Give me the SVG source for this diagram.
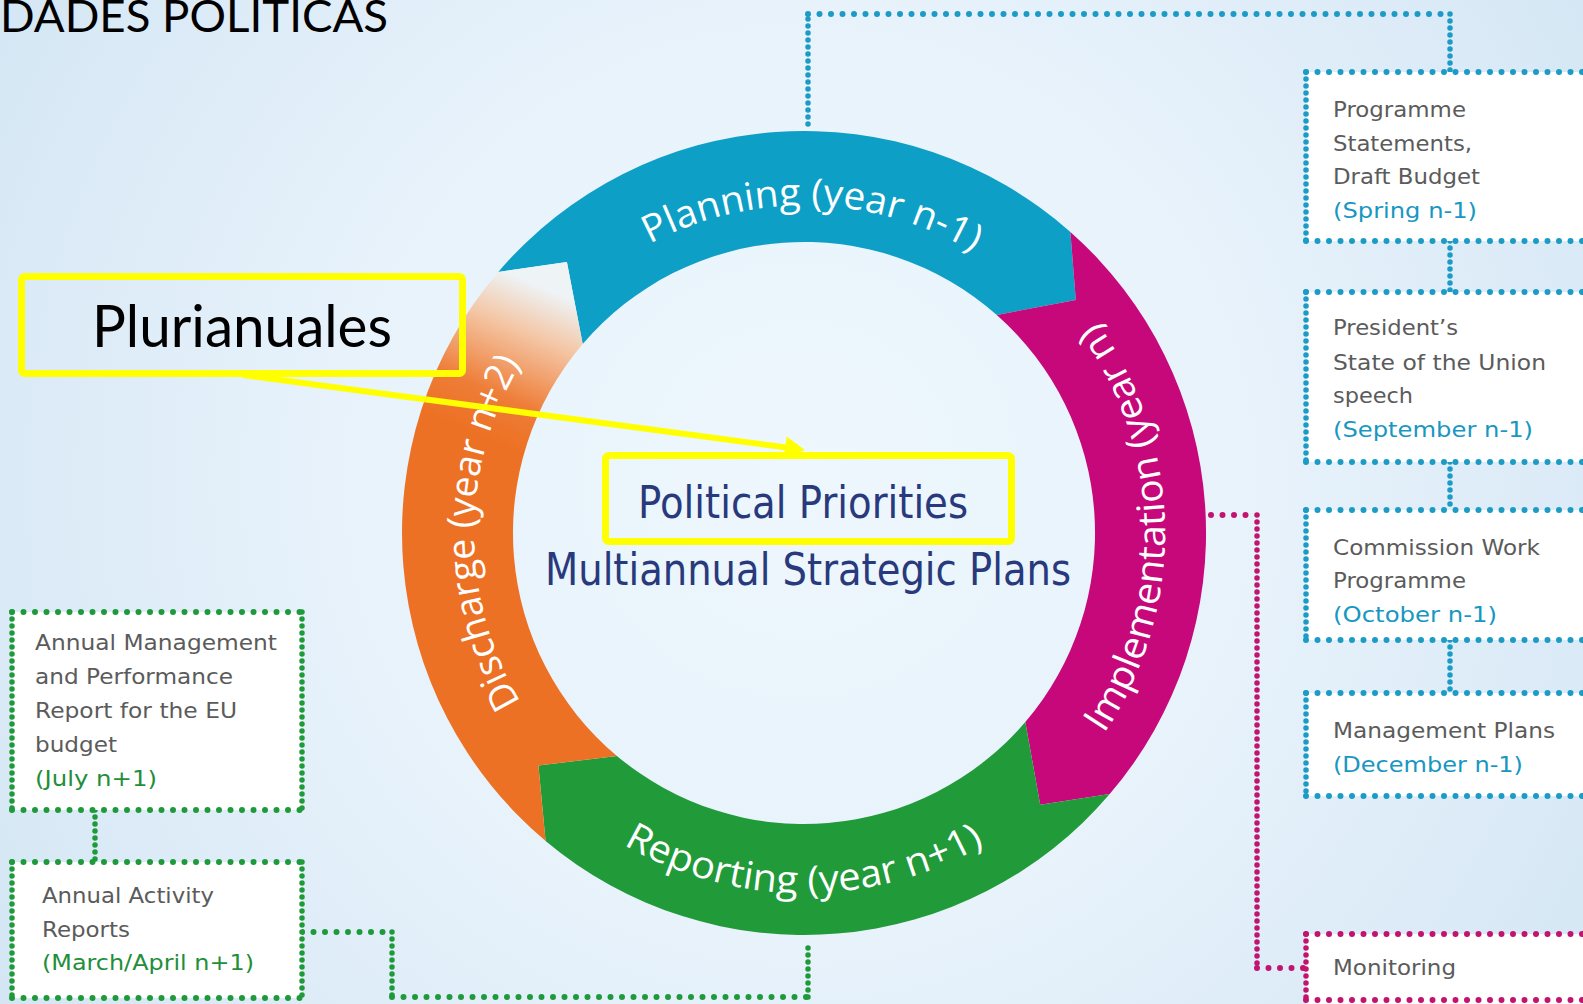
<svg xmlns="http://www.w3.org/2000/svg" width="1583" height="1004" viewBox="0 0 1583 1004">
<defs>
  <radialGradient id="bg" cx="800" cy="480" r="950" gradientUnits="userSpaceOnUse">
    <stop offset="0" stop-color="#eef7fd"/>
    <stop offset="0.5" stop-color="#e7f2fb"/>
    <stop offset="1" stop-color="#d4e6f4"/>
  </radialGradient>
  <linearGradient id="orangeFade" gradientUnits="userSpaceOnUse" x1="466" y1="430" x2="530" y2="282">
    <stop offset="0" stop-color="#ed7124"/>
    <stop offset="0.28" stop-color="#ee7d37"/>
    <stop offset="0.7" stop-color="#f4c6a5"/>
    <stop offset="1" stop-color="#eef3f6"/>
  </linearGradient>
  <path id="pPlanning" d="M 572.1,301.1 A 329 329 0 0 1 1047.7,313.5"/>
  <path id="pImpl" d="M 1059.3,788.3 A 361 361 0 0 0 1050.2,269.0"/>
  <path id="pReport" d="M 549.4,787.6 A 360 360 0 0 0 1058.6,787.6"/>
  <path id="pDischarge" d="M 570.7,766.3 A 330 330 0 0 1 570.7,299.7"/>
</defs>
<style>
  .ring-label { font-family: "Open Sans", "DejaVu Sans", sans-serif; font-size: 38px; fill: #ffffff; }
  .box-text { font-family: "DejaVu Sans", "Open Sans", sans-serif; font-size: 21px; fill: #5b5b5b; }
  .date-blue { fill: #1897c2; }
  .date-green { fill: #1f8f3a; }
  .center-text { font-family: "DejaVu Sans", "Open Sans", sans-serif; font-size: 45px; fill: #283a7c; }
  .hl { fill: none; stroke: #ffff00; stroke-width: 7; }
  .dot { fill: none; stroke-linecap: round; }
  .h { stroke-width: 6; stroke-dasharray: 0 11.5; }
  .v { stroke-width: 5.5; stroke-dasharray: 0 7; }
  .blue { stroke: #1b9bc5; }
  .mag { stroke: #c2136f; }
  .grn { stroke: #1f9a3a; }
  .boxfill { fill: #ffffff; stroke: none; }
</style>

<rect x="0" y="0" width="1583" height="1004" fill="url(#bg)"/>

<g id="title">
  <text x="0" y="32" font-family="Lato, 'DejaVu Sans', sans-serif" font-size="44" fill="#000" textLength="388" lengthAdjust="spacingAndGlyphs">DADES POLITICAS</text>
</g>

<g id="connectors">
  <line class="dot v blue" x1="808" y1="124" x2="808" y2="14"/>
  <line class="dot h blue" x1="808" y1="14" x2="1450" y2="14"/>
  <line class="dot v blue" x1="1450" y1="14" x2="1450" y2="72"/>
  <line class="dot v blue" x1="1450" y1="241" x2="1450" y2="292"/>
  <line class="dot v blue" x1="1450" y1="462" x2="1450" y2="510"/>
  <line class="dot v blue" x1="1450" y1="640" x2="1450" y2="693"/>
  <line class="dot h mag" x1="1211" y1="515" x2="1257" y2="515"/>
  <line class="dot v mag" x1="1257" y1="515" x2="1257" y2="968"/>
  <line class="dot h mag" x1="1257" y1="968" x2="1306" y2="968"/>
  <line class="dot v grn" x1="95" y1="810" x2="95" y2="862"/>
  <line class="dot h grn" x1="302" y1="932" x2="392" y2="932"/>
  <line class="dot v grn" x1="392" y1="932" x2="392" y2="997"/>
  <line class="dot h grn" x1="392" y1="997" x2="808" y2="997"/>
  <line class="dot v grn" x1="808" y1="997" x2="808" y2="941"/>
</g>

<g id="cycle">
  <path id="seg-planning" fill="#0e9fc6" d="M 498.3,271.9 A 402 402 0 0 1 1070.4,231.9 L 1075.8,300.0 L 996.8,315.0 A 291 291 0 0 0 582.7,344.0 L 566.9,262.1 Z"/>
  <path id="seg-implementation" fill="#c6087b" d="M 1070.4,231.9 A 402 402 0 0 1 1109.7,794.1 L 1040.2,804.7 L 1025.3,722.0 A 291 291 0 0 0 996.8,315.0 L 1075.8,300.0 Z"/>
  <path id="seg-reporting" fill="#219a3a" d="M 1109.7,794.1 A 402 402 0 0 1 545.6,840.9 L 538.4,765.5 L 616.9,755.9 A 291 291 0 0 0 1025.3,722.0 L 1040.2,804.7 Z"/>
  <path id="seg-discharge" fill="url(#orangeFade)" d="M 545.6,840.9 A 402 402 0 0 1 498.3,271.9 L 566.9,262.1 L 582.7,344.0 A 291 291 0 0 0 616.9,755.9 L 538.4,765.5 Z"/>
  <text class="ring-label"><textPath href="#pPlanning" startOffset="50%" text-anchor="middle" textLength="338" lengthAdjust="spacingAndGlyphs">Planning (year n-1)</textPath></text>
  <text class="ring-label"><textPath href="#pImpl" startOffset="50%" text-anchor="middle" textLength="438" lengthAdjust="spacingAndGlyphs">Implementation (year n)</textPath></text>
  <text class="ring-label"><textPath href="#pReport" startOffset="50%" text-anchor="middle" textLength="378" lengthAdjust="spacingAndGlyphs">Reporting (year n+1)</textPath></text>
  <text class="ring-label"><textPath href="#pDischarge" startOffset="50%" text-anchor="middle" textLength="355" lengthAdjust="spacingAndGlyphs">Discharge (year n+2)</textPath></text>
</g>

<g id="center">
  <text class="center-text" x="638" y="518" textLength="330" lengthAdjust="spacingAndGlyphs">Political Priorities</text>
  <text class="center-text" x="545" y="585" textLength="526" lengthAdjust="spacingAndGlyphs">Multiannual Strategic Plans</text>
</g>

<g id="box-programme">
  <rect class="boxfill" x="1306" y="72" width="300" height="169"/>
  <line class="dot h blue" x1="1306" y1="72" x2="1600" y2="72"/>
  <line class="dot h blue" x1="1306" y1="241" x2="1600" y2="241"/>
  <line class="dot v blue" x1="1306" y1="72" x2="1306" y2="241"/>
  <text class="box-text" x="1333" y="117" textLength="133" lengthAdjust="spacingAndGlyphs">Programme</text>
  <text class="box-text" x="1333" y="151" textLength="139" lengthAdjust="spacingAndGlyphs">Statements,</text>
  <text class="box-text" x="1333" y="184" textLength="147" lengthAdjust="spacingAndGlyphs">Draft Budget</text>
  <text class="box-text date-blue" x="1333" y="218" textLength="144" lengthAdjust="spacingAndGlyphs">(Spring n-1)</text>
</g>

<g id="box-president">
  <rect class="boxfill" x="1306" y="292" width="300" height="170"/>
  <line class="dot h blue" x1="1306" y1="292" x2="1600" y2="292"/>
  <line class="dot h blue" x1="1306" y1="462" x2="1600" y2="462"/>
  <line class="dot v blue" x1="1306" y1="292" x2="1306" y2="462"/>
  <text class="box-text" x="1333" y="335" textLength="125" lengthAdjust="spacingAndGlyphs">President’s</text>
  <text class="box-text" x="1333" y="370" textLength="213" lengthAdjust="spacingAndGlyphs">State of the Union</text>
  <text class="box-text" x="1333" y="403" textLength="80" lengthAdjust="spacingAndGlyphs">speech</text>
  <text class="box-text date-blue" x="1333" y="437" textLength="200" lengthAdjust="spacingAndGlyphs">(September n-1)</text>
</g>

<g id="box-cwp">
  <rect class="boxfill" x="1306" y="510" width="300" height="130"/>
  <line class="dot h blue" x1="1306" y1="510" x2="1600" y2="510"/>
  <line class="dot h blue" x1="1306" y1="640" x2="1600" y2="640"/>
  <line class="dot v blue" x1="1306" y1="510" x2="1306" y2="640"/>
  <text class="box-text" x="1333" y="555" textLength="207" lengthAdjust="spacingAndGlyphs">Commission Work</text>
  <text class="box-text" x="1333" y="588" textLength="133" lengthAdjust="spacingAndGlyphs">Programme</text>
  <text class="box-text date-blue" x="1333" y="622" textLength="164" lengthAdjust="spacingAndGlyphs">(October n-1)</text>
</g>

<g id="box-management">
  <rect class="boxfill" x="1306" y="693" width="300" height="103"/>
  <line class="dot h blue" x1="1306" y1="693" x2="1600" y2="693"/>
  <line class="dot h blue" x1="1306" y1="796" x2="1600" y2="796"/>
  <line class="dot v blue" x1="1306" y1="693" x2="1306" y2="796"/>
  <text class="box-text" x="1333" y="738" textLength="222" lengthAdjust="spacingAndGlyphs">Management Plans</text>
  <text class="box-text date-blue" x="1333" y="772" textLength="190" lengthAdjust="spacingAndGlyphs">(December n-1)</text>
</g>

<g id="box-monitoring">
  <rect class="boxfill" x="1306" y="934" width="300" height="80"/>
  <line class="dot h mag" x1="1306" y1="934" x2="1600" y2="934"/>
  <line class="dot h mag" x1="1306" y1="1000" x2="1600" y2="1000"/>
  <line class="dot v mag" x1="1306" y1="934" x2="1306" y2="1000"/>
  <text class="box-text" x="1333" y="975" textLength="123" lengthAdjust="spacingAndGlyphs">Monitoring</text>
</g>

<g id="box-amp">
  <rect class="boxfill" x="12" y="612" width="290" height="198"/>
  <line class="dot h grn" x1="12" y1="612" x2="302" y2="612"/>
  <line class="dot h grn" x1="12" y1="810" x2="302" y2="810"/>
  <line class="dot v grn" x1="12" y1="612" x2="12" y2="810"/>
  <line class="dot v grn" x1="302" y1="612" x2="302" y2="810"/>
  <text class="box-text" x="35" y="650" textLength="242" lengthAdjust="spacingAndGlyphs">Annual Management</text>
  <text class="box-text" x="35" y="684" textLength="198" lengthAdjust="spacingAndGlyphs">and Performance</text>
  <text class="box-text" x="35" y="718" textLength="202" lengthAdjust="spacingAndGlyphs">Report for the EU</text>
  <text class="box-text" x="35" y="752" textLength="82" lengthAdjust="spacingAndGlyphs">budget</text>
  <text class="box-text date-green" x="35" y="786" textLength="122" lengthAdjust="spacingAndGlyphs">(July n+1)</text>
</g>

<g id="box-aar">
  <rect class="boxfill" x="12" y="862" width="290" height="136"/>
  <line class="dot h grn" x1="12" y1="862" x2="302" y2="862"/>
  <line class="dot h grn" x1="12" y1="998" x2="302" y2="998"/>
  <line class="dot v grn" x1="12" y1="862" x2="12" y2="998"/>
  <line class="dot v grn" x1="302" y1="862" x2="302" y2="998"/>
  <text class="box-text" x="42" y="903" textLength="172" lengthAdjust="spacingAndGlyphs">Annual Activity</text>
  <text class="box-text" x="42" y="937" textLength="88" lengthAdjust="spacingAndGlyphs">Reports</text>
  <text class="box-text date-green" x="42" y="970" textLength="212" lengthAdjust="spacingAndGlyphs">(March/April n+1)</text>
</g>

<g id="highlight-plurianuales">
  <rect class="hl" x="21.5" y="276.5" width="441" height="97" rx="3"/>
  <text x="92" y="347" font-family="Lato, 'DejaVu Sans', sans-serif" font-size="58" fill="#000" textLength="300" lengthAdjust="spacingAndGlyphs">Plurianuales</text>
</g>

<g id="highlight-political">
  <rect class="hl" x="605.5" y="455.5" width="406" height="86" rx="3"/>
</g>

<g id="highlight-arrow">
  <line x1="243" y1="375" x2="790" y2="448" stroke="#ffff00" stroke-width="6"/>
  <polygon points="805,450 786.7,436.5 783.7,458.3" fill="#ffff00"/>
</g>
</svg>
